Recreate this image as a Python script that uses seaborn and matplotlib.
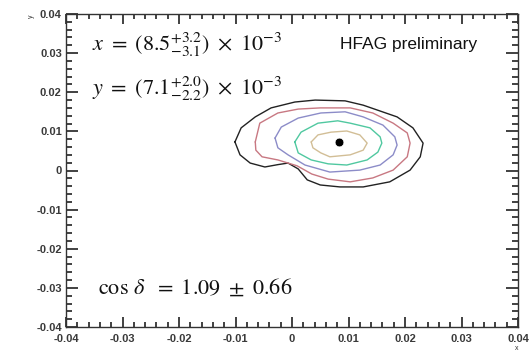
import numpy as np
import matplotlib
matplotlib.use("Agg")
import matplotlib.pyplot as plt
import seaborn as sns
from matplotlib.ticker import MultipleLocator

sns.set_theme(style="ticks")
plt.rcParams["font.family"] = ["Liberation Sans", "DejaVu Sans"]
plt.rcParams["mathtext.fontset"] = "stix"

# ---- data (data units) ----
black_x = [-0.0101, -0.0090, -0.0065, -0.0037, 0.0005, 0.0041, 0.0094, 0.0126, 0.0186, 0.0214,
           0.0232, 0.0227, 0.0209, 0.0173, 0.0126, 0.0085, 0.0050, 0.0027, 0.0011, -0.0007,
           -0.0025, -0.0048, -0.0074, -0.0092]
black_y = [0.0073, 0.0109, 0.0137, 0.0160, 0.0175, 0.0180, 0.0178, 0.0167, 0.0137, 0.0109,
           0.0070, 0.0035, 0.0001, -0.0029, -0.0042, -0.0042, -0.0037, -0.0024, 0.0004, 0.0019,
           0.0015, 0.0009, 0.0019, 0.0040]

red_x = [-0.0065, -0.0057, -0.0025, 0.0011, 0.0050, 0.0103, 0.0143, 0.0179, 0.0204, 0.0209,
         0.0204, 0.0179, 0.0143, 0.0103, 0.0064, 0.0035, 0.0009, -0.0025, -0.0053, -0.0064]
red_y = [0.0073, 0.0121, 0.0147, 0.0157, 0.0160, 0.0160, 0.0147, 0.0121, 0.0096, 0.0070,
         0.0035, 0.0001, -0.0019, -0.0029, -0.0022, -0.0009, 0.0012, 0.0027, 0.0035, 0.0052]

blue_x = [-0.0030, -0.0019, 0.0011, 0.0051, 0.0094, 0.0126, 0.0161, 0.0182, 0.0186, 0.0179,
          0.0156, 0.0120, 0.0067, 0.0023, -0.0007, -0.0025]
blue_y = [0.0083, 0.0111, 0.0134, 0.0147, 0.0150, 0.0137, 0.0116, 0.0086, 0.0065, 0.0040,
          0.0014, 0.0001, -0.0004, 0.0014, 0.0040, 0.0058]

green_x = [0.0005, 0.0016, 0.0046, 0.0081, 0.0103, 0.0138, 0.0156, 0.0159, 0.0152, 0.0133,
           0.0097, 0.0064, 0.0034, 0.0011]
green_y = [0.0073, 0.0098, 0.0121, 0.0127, 0.0121, 0.0109, 0.0086, 0.0070, 0.0047, 0.0027,
           0.0014, 0.0017, 0.0027, 0.0045]

orange_x = [0.0034, 0.0046, 0.0069, 0.0097, 0.0120, 0.0133, 0.0126, 0.0103, 0.0067, 0.0051, 0.0037]
orange_y = [0.0073, 0.0091, 0.0098, 0.0101, 0.0091, 0.0070, 0.0052, 0.0040, 0.0035, 0.0045, 0.0058]

best_x = [0.0083]
best_y = [0.0073]

tick_values = [-0.04, -0.03, -0.02, -0.01, 0, 0.01, 0.02, 0.03, 0.04]
tick_labels = ["-0.04", "-0.03", "-0.02", "-0.01", "0", "0.01", "0.02", "0.03", "0.04"]

contours = [
    (black_x, black_y, "#222222"),
    (red_x, red_y, "#c87882"),
    (blue_x, blue_y, "#8c8cc8"),
    (green_x, green_y, "#50c8a0"),
    (orange_x, orange_y, "#d2be96"),
]

# ---- figure ----
fig = plt.figure(figsize=(5.32, 3.57), dpi=100)
ax = fig.add_axes([66 / 532, 30 / 357, 452 / 532, 313 / 357])

for cx, cy, col in contours:
    xs = list(cx) + [cx[0]]
    ys = list(cy) + [cy[0]]
    sns.lineplot(x=xs, y=ys, sort=False, estimator=None, color=col, linewidth=1.0, ax=ax)

sns.scatterplot(x=best_x, y=best_y, color="black", s=40, ax=ax)

ax.set_xlim(-0.04, 0.04)
ax.set_ylim(-0.04, 0.04)
ax.set_xticks(tick_values)
ax.set_yticks(tick_values)
ax.xaxis.set_minor_locator(MultipleLocator(0.002))
ax.yaxis.set_minor_locator(MultipleLocator(0.002))
ax.set_xticklabels(tick_labels, fontsize=8, fontweight="bold", color="#3a3a3a")
ax.set_yticklabels(tick_labels, fontsize=8, fontweight="bold", color="#3a3a3a")

for sp in ax.spines.values():
    sp.set_color("#333333")
    sp.set_linewidth(1.0)

ax.set_xlabel("x", fontsize=5, loc="right", labelpad=1, color="#333333")
ax.set_ylabel("y", fontsize=5, loc="top", labelpad=1, color="#333333")

ax.text(0.057, 0.90, r"$x\ =\ (8.5^{+3.2}_{-3.1})\ \times\ 10^{-3}$",
        transform=ax.transAxes, fontsize=16, va="center", ha="left", color="#111111")
ax.text(0.057, 0.762, r"$y\ =\ (7.1^{+2.0}_{-2.2})\ \times\ 10^{-3}$",
        transform=ax.transAxes, fontsize=16, va="center", ha="left", color="#111111")
ax.text(0.071, 0.125, r"$\cos\,\delta\ \ =\ 1.09\ \pm\ 0.66$",
        transform=ax.transAxes, fontsize=16, va="center", ha="left", color="#111111")
ax.text(0.606, 0.903, "HFAG preliminary", transform=ax.transAxes,
        fontsize=12.5, va="center", ha="left", color="#111111")

# ticks last (ROOT style: inside, on all four sides)
ax.tick_params(axis="both", which="both", direction="in", width=1.3, color="#333333",
               bottom=True, top=True, left=True, right=True,
               labeltop=False, labelright=False)
ax.tick_params(axis="x", which="major", length=7, pad=5)
ax.tick_params(axis="x", which="minor", length=3.5)
ax.tick_params(axis="y", which="major", length=8.5, pad=3)
ax.tick_params(axis="y", which="minor", length=4.3)

fig.savefig("out.png", dpi=100)
